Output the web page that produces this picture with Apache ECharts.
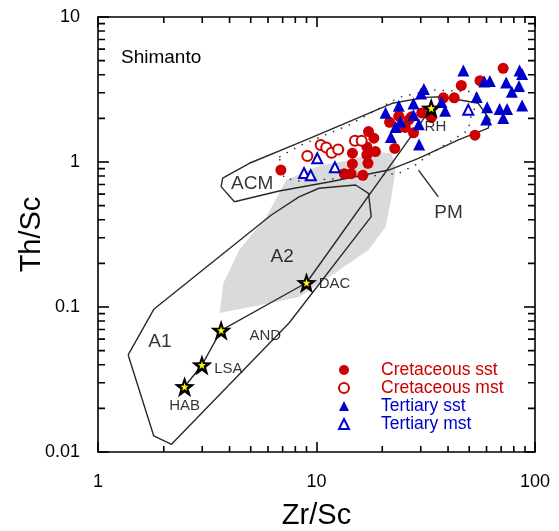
<!DOCTYPE html>
<html lang="en">
<head>
    <meta charset="UTF-8">
    <title>Th/Sc vs Zr/Sc - Shimanto</title>
    <script type="text/javascript" src="https://cdn.jsdelivr.net/npm/echarts@6/dist/echarts.min.js"></script>
    <style>
        body { margin: 0; background: #fff; }
    </style>
</head>
<body>
    <div id="chart" style="width:559px;height:531px;"></div>
<script>
// 数据 [Zr/Sc, Th/Sc]
var crSst = [[71.5,4.43],[56.0,3.64],[46.0,3.37],[38.1,2.77],[42.7,2.77],[53.1,1.53],[33.5,2.03],
    [23.8,2.07],[21.6,1.88],[25.5,1.73],[27.8,1.59],[26.4,1.95],[27.2,2.05],[30.3,2.18],[24.5,1.75],
    [22.8,1.24],[17.3,1.62],[18.3,1.46],[17.0,1.27],[18.6,1.18],[17.0,1.12],[14.6,1.15],[17.2,0.98],
    [14.6,0.97],[13.4,0.83],[14.4,0.83],[16.3,0.81],[6.87,0.88]];
var crMst = [[9.08,1.10],[10.45,1.31],[11.08,1.26],[11.73,1.16],[12.57,1.22],[15.0,1.40],[16.1,1.40]];
var tSst = [[47.0,4.27],[85.0,4.27],[87.3,4.04],[58.6,3.59],[62.1,3.62],[73.8,3.53],[84.5,3.34],
    [78.3,3.05],[54.1,2.81],[31.0,3.19],[30.1,2.97],[27.8,2.53],[37.3,2.59],[38.8,2.26],[60.4,2.39],
    [68.9,2.32],[74.5,2.32],[87.3,2.45],[71.5,2.01],[59.8,1.96],[29.4,1.82],[24.2,1.90],[29.5,1.32],
    [20.7,2.19],[23.8,2.44],[23.0,1.74],[21.9,1.49],[27.8,2.11]];
var tMst = [[49.5,2.29],[10.08,1.06],[8.77,0.84],[9.41,0.81],[12.14,0.92]];

// HAB - LSA - AND - DAC - RH
var trend = [[2.49,0.0282],[2.99,0.0398],[3.66,0.069],[9.0,0.147],[33.5,2.35]];

// 区域
var fieldA1 = [[1.374,0.0467],[1.80,0.0964],[6.21,0.431],[8.32,0.574],[10.27,0.659],[15.1,0.694],
    [17.3,0.608],[17.8,0.420],[7.49,0.0776],[2.17,0.0113],[1.80,0.0129],[1.374,0.0467]];
var fieldACM = [[4.21,0.532],[3.66,0.676],[3.72,0.773],[4.93,0.98],[8.96,1.42],[22.2,2.54],[31.5,2.79],
    [37.4,2.82],[55.0,2.54],[62.2,1.95],[61.1,1.71],[44.6,1.42],[29.3,1.06],[21.4,0.88],[11.4,0.728],
    [6.75,0.631],[4.21,0.532]];
var fieldPM = [[6.75,1.08],[8.32,1.29],[14.1,1.80],[21.4,2.55],[23.8,2.79],[33.6,3.14],[53.3,3.05],
    [55.0,2.61],[51.1,2.11],[49.5,1.66],[31.5,1.08],[29.3,0.98],[23.8,0.836],[14.1,0.776],[8.32,0.74],
    [7.11,0.773],[6.75,1.08]];
var pmPointer = [[29.3,0.88],[36.1,0.574]];
var grayField = [[3.60,0.091],[3.75,0.1466],[4.43,0.247],[5.89,0.418],[7.26,0.752],[10.27,0.938],
    [14.1,1.03],[19.3,1.17],[22.1,1.15],[23.0,0.88],[21.9,0.547],[20.7,0.356],[17.3,0.247],
    [11.4,0.161],[8.32,0.117],[5.47,0.103]];

// 文字标注
var fieldLabels = [{name:'ACM', value:[5.08,0.705]}, {name:'A2', value:[6.96,0.221]},
    {name:'A1', value:[1.92,0.0574]}, {name:'PM', value:[40.2,0.445]}];
var rockLabels = [{name:'RH', value:[35.0,1.74]}, {name:'DAC', value:[12.1,0.144]},
    {name:'AND', value:[5.83,0.063]}, {name:'LSA', value:[3.95,0.0373]}, {name:'HAB', value:[2.49,0.0207]}];

// 刻度
var xMinor = [2,3,4,5,6,7,8,9,20,30,40,50,60,70,80,90];
var yMinor = [0.02,0.03,0.04,0.05,0.06,0.07,0.08,0.09,0.2,0.3,0.4,0.5,0.6,0.7,0.8,0.9,2,3,4,5,6,7,8,9];

var FONT = '"Liberation Sans", Arial, sans-serif';
var RED = '#cc0000', BLUE = '#0000cc', LINE = '#2a2a2a';
var STAR = 'path://M50,0 L61.8,33.8 L97.6,34.5 L69,56.2 L79.4,90.5 L50,70 L20.6,90.5 L31,56.2 L2.4,34.5 L38.2,33.8 Z';

var myChart = echarts.init(document.getElementById('chart'));

function axisX(pos, show) {
    return {
        type: 'log', logBase: 10, min: 1, max: 100, position: pos,
        name: show ? 'Zr/Sc' : '', nameLocation: 'middle', nameGap: 49, nameMoveOverlap: false,
        nameTextStyle: { fontSize: 29, fontFamily: FONT, color: '#000' },
        axisLine: { show: true, onZero: false, lineStyle: { color: '#000', width: 1.6 } },
        axisTick: { show: true, inside: true, length: 10, lineStyle: { color: '#000', width: 1.6 } },
        axisLabel: { show: show, margin: 21, fontSize: 18, fontFamily: FONT, color: '#000' },
        splitLine: { show: false }
    };
}
function axisY(pos, show) {
    return {
        type: 'log', logBase: 10, min: 0.01, max: 10, position: pos,
        name: show ? 'Th/Sc' : '', nameLocation: 'middle', nameGap: 52, nameMoveOverlap: false,
        nameTextStyle: { fontSize: 29, fontFamily: FONT, color: '#000' },
        axisLine: { show: true, onZero: false, lineStyle: { color: '#000', width: 1.6 } },
        axisTick: { show: true, inside: true, length: 11, lineStyle: { color: '#000', width: 1.6 } },
        axisLabel: { show: show, margin: 18, fontSize: 18, fontFamily: FONT, color: '#000' },
        splitLine: { show: false }
    };
}

function outline(name, data, type) {
    return {
        name: name, type: 'line', data: data, showSymbol: false, symbol: 'none', silent: true,
        lineStyle: { color: LINE, width: 1.4, type: type || 'solid' }, z: 3
    };
}

var option = {
    backgroundColor: '#ffffff',
    animation: false,
    title: {
        text: 'Shimanto', left: 116, top: 43,
        textStyle: { fontSize: 19, fontWeight: 'normal', fontFamily: FONT, color: '#000' }
    },
    grid: { left: 98, right: 24, top: 17, bottom: 79, containLabel: false, outerBoundsMode: 'none' },
    legend: {
        orient: 'vertical', left: 333, top: 356, itemWidth: 10, itemHeight: 10, itemGap: 0,
        selectedMode: false,
        textStyle: { fontSize: 17.5, fontFamily: FONT, padding: [0, 0, 0, 27], lineHeight: 16.8 },
        data: [
            { name: 'Cretaceous sst', textStyle: { color: RED } },
            { name: 'Cretaceous mst', textStyle: { color: RED } },
            { name: 'Tertiary sst', textStyle: { color: BLUE } },
            { name: 'Tertiary mst', textStyle: { color: BLUE } }
        ]
    },
    xAxis: [axisX('bottom', true), axisX('top', false)],
    yAxis: [axisY('left', true), axisY('right', false)],
    series: [
        // 灰色区域
        {
            name: 'gray', type: 'custom', silent: true, z: 1,
            data: [grayField[0]],
            renderItem: function (params, api) {
                var pts = grayField.map(function (p) { return api.coord(p); });
                return { type: 'polygon', shape: { points: pts }, style: { fill: '#d9dadb' } };
            }
        },
        outline('PM', fieldPM, [1.5, 7]),
        outline('A1', fieldA1),
        outline('ACM', fieldACM),
        outline('pointer', pmPointer),
        outline('trend', trend),
        // 次刻度 (四边)
        {
            name: 'minorTicks', type: 'custom', z: 10,
            data: [[2, 0.02]],
            renderItem: function (params, api) {
                var d = '';
                xMinor.forEach(function (v) {
                    var b = api.coord([v, 0.01]);
                    var t = api.coord([v, 10]);
                    d += 'M' + b[0] + ' ' + b[1] + 'L' + b[0] + ' ' + (b[1] - 6);
                    d += 'M' + t[0] + ' ' + t[1] + 'L' + t[0] + ' ' + (t[1] + 6);
                });
                yMinor.forEach(function (v) {
                    var l = api.coord([1, v]);
                    var r = api.coord([100, v]);
                    d += 'M' + l[0] + ' ' + l[1] + 'L' + (l[0] + 7) + ' ' + l[1];
                    d += 'M' + r[0] + ' ' + r[1] + 'L' + (r[0] - 7) + ' ' + r[1];
                });
                return { type: 'path', shape: { pathData: d }, style: { stroke: '#000', fill: null, lineWidth: 1.6 } };
            }
        },
        // 样品
        { name: 'Cretaceous sst', type: 'scatter', data: crSst, symbol: 'circle', symbolSize: 11, z: 5,
          itemStyle: { color: RED, opacity: 1 } },
        { name: 'Cretaceous mst', type: 'scatter', data: crMst, symbol: 'emptyCircle', symbolSize: 10, z: 5,
          itemStyle: { color: RED, borderColor: RED, borderWidth: 1.6, opacity: 1 } },
        { name: 'Tertiary sst', type: 'scatter', data: tSst, symbol: 'triangle', symbolSize: 12, z: 5,
          itemStyle: { color: BLUE, opacity: 1 } },
        { name: 'Tertiary mst', type: 'scatter', data: tMst, symbol: 'emptyTriangle', symbolSize: 10, z: 5,
          itemStyle: { color: BLUE, borderColor: BLUE, borderWidth: 1.6, opacity: 1 } },
        // 星形
        { name: 'starBlack', type: 'scatter', data: trend, symbol: STAR, symbolSize: 21, z: 6, silent: true,
          itemStyle: { color: '#000', opacity: 1 } },
        { name: 'starYellow', type: 'scatter', data: trend, symbol: STAR, symbolSize: 8, z: 7, silent: true,
          itemStyle: { color: '#ffff00', opacity: 1 } },
        // 标注
        { name: 'fieldLabels', type: 'scatter', data: fieldLabels, symbolSize: 0, z: 8, silent: true,
          label: { show: true, position: 'inside', formatter: '{b}', fontSize: 19, fontFamily: FONT, color: '#000' } },
        { name: 'rockLabels', type: 'scatter', data: rockLabels, symbolSize: 0, z: 8, silent: true,
          label: { show: true, position: 'inside', formatter: '{b}', fontSize: 15, fontFamily: FONT, color: '#000' } }
    ]
};

myChart.setOption(option);
</script>
</body>
</html>
